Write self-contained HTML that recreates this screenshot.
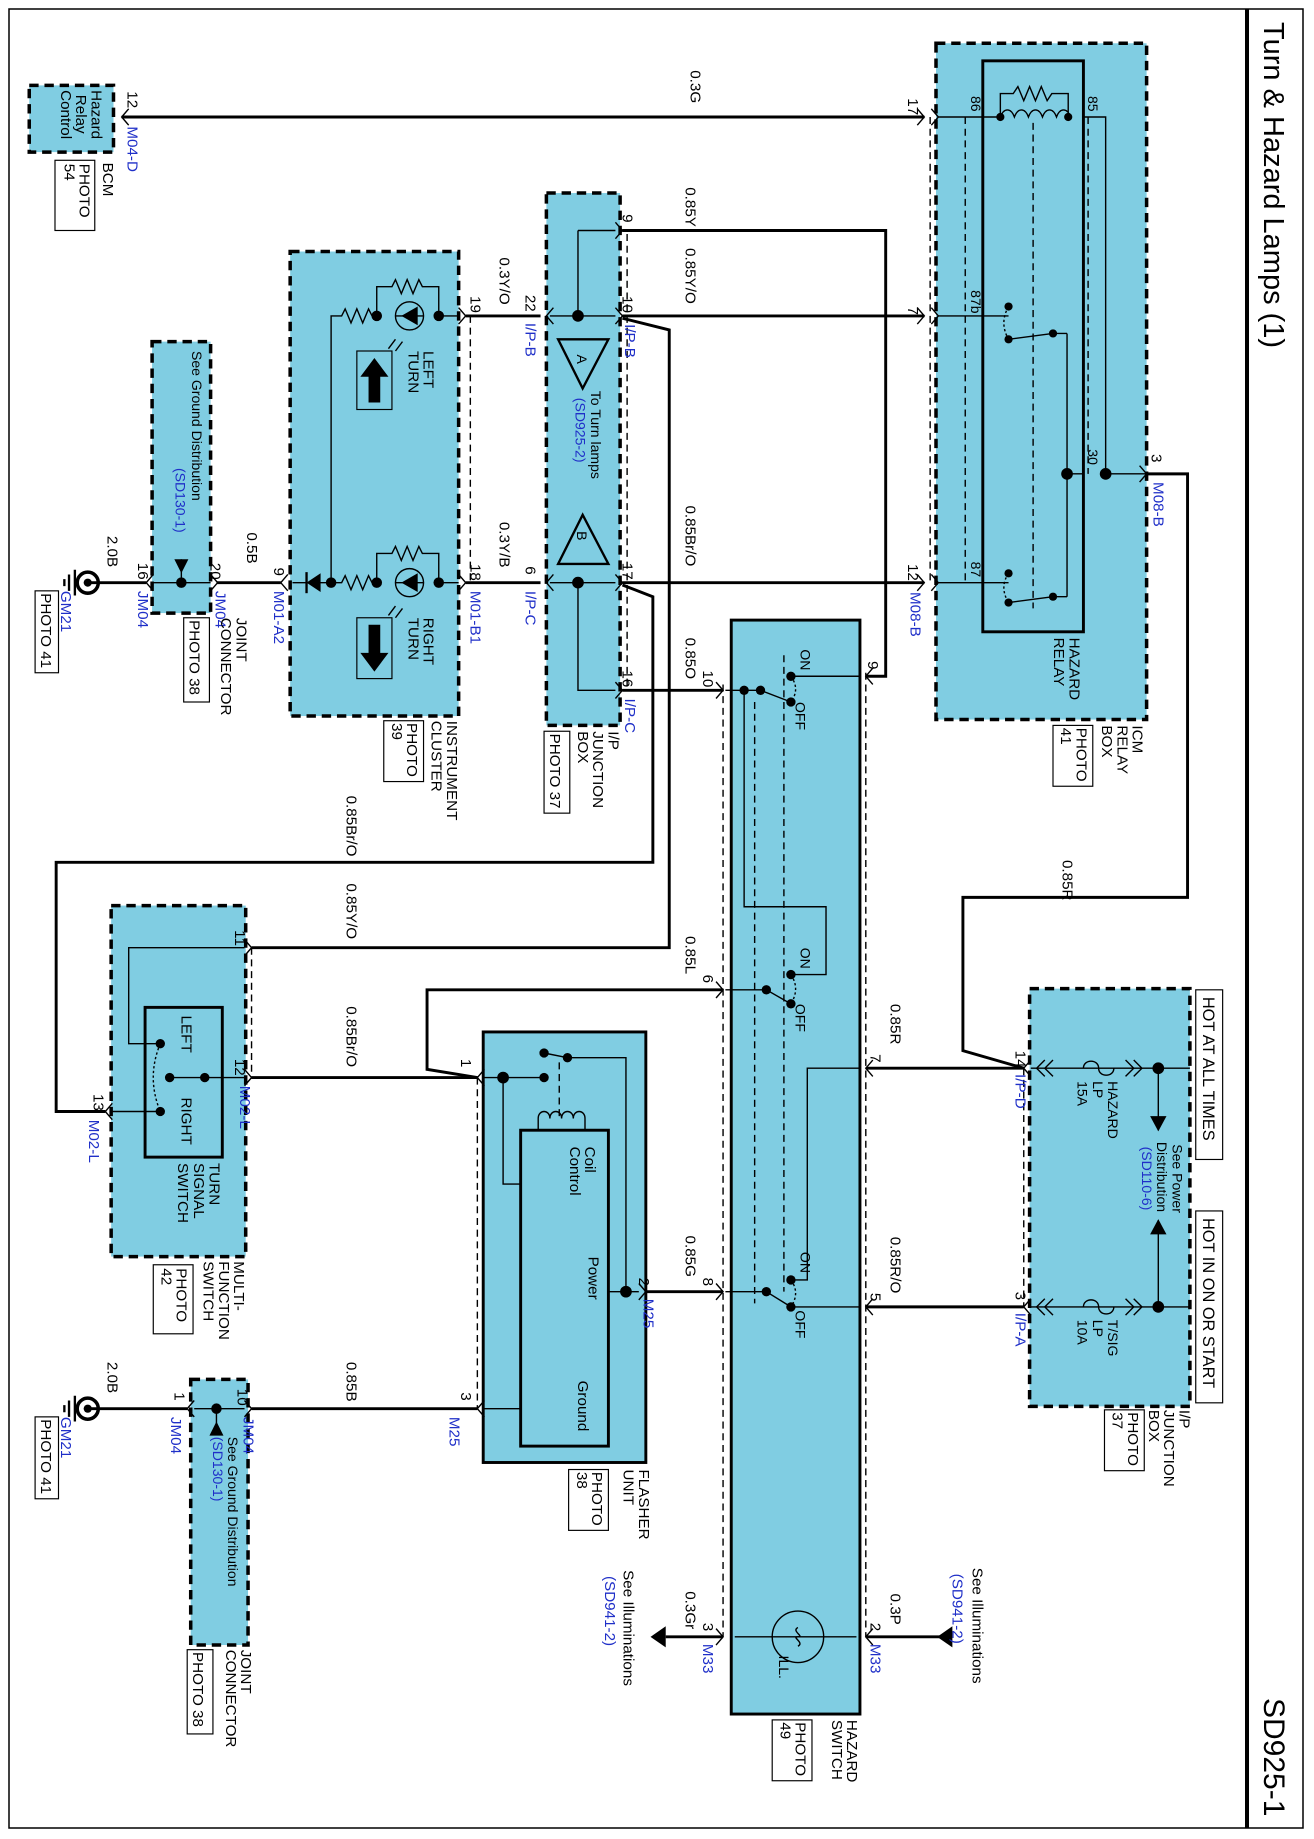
<!DOCTYPE html>
<html><head><meta charset="utf-8">
<style>
html,body{margin:0;padding:0;background:#fff}
svg{display:block}
text{font-family:"Liberation Sans",sans-serif;font-size:13px;fill:#000}
.b{fill:#1f2fc8}
.s{font-size:12px}
.w{stroke:#000;stroke-width:2.5;fill:none}
.l{stroke:#000;stroke-width:1.2;fill:none}
.d{stroke:#000;stroke-width:1.2;fill:none;stroke-dasharray:6 4}
.box{fill:#80cde2;stroke:#000;stroke-width:3;stroke-dasharray:8 5}
.sb{fill:#80cde2;stroke:#000;stroke-width:2.5}
</style></head><body>
<svg width="1314" height="1839" viewBox="0 0 1314 1839" xmlns="http://www.w3.org/2000/svg">
<rect x="9" y="9" width="1294" height="1819" fill="none" stroke="#000" stroke-width="1.5"/>
<line x1="1247" y1="9" x2="1247" y2="1828" stroke="#000" stroke-width="4"/>
<text transform="translate(1264,22) rotate(90)" style="font-size:29px">Turn &amp; Hazard Lamps (1)</text>
<text transform="translate(1264,1698) rotate(90)" style="font-size:30px">SD925-1</text>

<g transform="scale(1.17)">
<!-- Blue boxes -->
<rect class="box" x="25" y="73" width="72" height="57"/>
<rect class="box" x="800" y="37" width="180" height="578"/>
<rect x="840" y="52" width="86" height="488" fill="none" stroke="#000" stroke-width="2.5"/>
<rect class="box" x="467" y="165" width="63" height="455"/>
<rect class="box" x="248" y="215" width="144" height="397"/>
<rect class="box" x="130" y="292" width="50" height="232"/>
<rect class="sb" x="625" y="530" width="110" height="935"/>
<rect class="box" x="880" y="845" width="137" height="357"/>
<rect class="sb" x="413" y="882" width="139" height="368"/>
<rect x="445" y="966" width="75" height="270" fill="none" stroke="#000" stroke-width="2.5"/>
<rect class="box" x="95" y="774" width="115" height="300"/>
<rect x="124" y="861" width="66" height="128" fill="none" stroke="#000" stroke-width="2.5"/>
<rect class="box" x="163" y="1179" width="49" height="227"/>

<!-- main wires -->
<path class="w" d="M104 100H790"/>
<path class="w" d="M532 197H757V578H740"/>
<path class="w" d="M532 270H790"/>
<path class="w" d="M532 498H790"/>
<path class="w" d="M532 590H618"/>
<path class="w" d="M398 270H462"/>
<path class="w" d="M398 498H462"/>
<path class="w" d="M75 498H125"/>
<path class="w" d="M185 498H240"/>
<path class="w" d="M532 272L572 282V810H215"/>
<path class="w" d="M532 500L558 510V737H48V950H90"/>
<path class="w" d="M980 405H1015V767H823V898L875 913"/>
<path class="w" d="M740 913H875"/>
<path class="w" d="M740 1117H875"/>
<path class="w" d="M618 846H365V914L408 921"/>
<path class="w" d="M618 1104H552"/>
<path class="w" d="M215 921H408"/>
<path class="w" d="M215 1204H408"/>
<path class="w" d="M75 1204H160"/>
<path class="w" d="M740 1399H810"/>
<path class="w" d="M618 1399H569"/>
<polygon points="801,1399 814,1390 814,1408" fill="#000"/>
<polygon points="556,1399 569,1390 569,1408" fill="#000"/>

<!-- connector chevrons -->
<g class="l" stroke-width="1.3">
<path d="M110 93L104 100L110 107"/>
<path d="M784 93L790 100L784 107M784 263L790 270L784 277M784 491L790 498L784 505"/>
<path d="M796 93L802 100M796 107L802 100M796 263L802 270M796 277L802 270M796 491L802 498M796 505L802 498"/>
<path d="M526 190L532 197L526 204M526 263L532 270L526 277M526 491L532 498L526 505M526 583L532 590L526 597"/>
<path d="M473 263L467 270L473 277M473 491L467 498L473 505"/>
<path d="M392 263L398 270L392 277M392 491L398 498L392 505"/>
<path d="M246 491L240 498L246 505M131 491L125 498L131 505M180 491L186 498L180 505"/>
<path d="M974 398L980 405L974 412"/>
<path d="M612 583L618 590L612 597M612 839L618 846L612 853M612 1097L618 1104L612 1111M612 1392L618 1399L612 1406"/>
<path d="M746 571L740 578L746 585M746 906L740 913L746 920M746 1110L740 1117L746 1124M746 1392L740 1399L746 1406"/>
<path d="M881 906L875 913L881 920M881 1110L875 1117L881 1124"/>
<path d="M414 914L408 921L414 928M414 1197L408 1204L414 1211M546 1097L552 1104L546 1111"/>
<path d="M209 803L215 810L209 817M209 914L215 921L209 928M96 943L90 950L96 957"/>
<path d="M166 1197L160 1204L166 1211M209 1197L215 1204L209 1211"/>
</g>
<path class="d" d="M795 100V498M536 200V590M402 270V498M618 585V1399M740 575V1399M875 913V1117M408 921V1204M215 810V921"/>

<!-- BCM text -->
<text transform="translate(78,77) rotate(90)">Hazard</text>
<text transform="translate(65,81) rotate(90)">Relay</text>
<text transform="translate(52,77) rotate(90)">Control</text>
<text transform="translate(109,78) rotate(90)">12</text>
<text transform="translate(109,108) rotate(90)" class="b">M04-D</text>
<text transform="translate(88,139) rotate(90)">BCM</text>
<rect x="47" y="137" width="34" height="60" fill="none" stroke="#000"/>
<text transform="translate(68,140) rotate(90)">PHOTO</text>
<text transform="translate(55,140) rotate(90)">54</text>
<text transform="translate(590,60) rotate(90)">0.3G</text>

<!-- ICM relay internals -->
<path class="l" d="M802 100H855M926 100H945V405H980M802 270H862M802 498H862M912 405H926M912 285V510"/>
<path class="l" d="M855 100c3-8 9-8 12 0c3-8 9-8 12 0c3-8 9-8 12 0c3-8 9-8 12 0c3-8 9-8 12 0"/>
<path class="l" d="M855 100V80H866l4-6 5 12 5-12 5 12 5-12 5 12 4-6H913V100"/>
<path class="d" d="M825 100V498M930 100V405M883 105V520"/>
<circle cx="855" cy="100" r="3.5"/><circle cx="913" cy="100" r="3.5"/>
<circle cx="862" cy="262" r="3.5"/><circle cx="862" cy="290" r="3.5"/><circle cx="900" cy="285" r="3.5"/>
<path class="l" d="M900 285L862 290M900 285H912"/>
<circle cx="862" cy="490" r="3.5"/><circle cx="862" cy="515" r="3.5"/><circle cx="900" cy="510" r="3.5"/>
<path class="l" d="M900 510L862 515M900 510H912"/>
<circle cx="912" cy="405" r="5"/><circle cx="945" cy="405" r="5"/>
<path class="l" d="M862 262q-8 14 0 28M862 490q-8 12 0 25" stroke-dasharray="2 2"/>
<text transform="translate(776,84) rotate(90)">17</text>
<text transform="translate(776,262) rotate(90)">7</text>
<text transform="translate(776,482) rotate(90)">12</text>
<text transform="translate(778,506) rotate(90)" class="b">M08-B</text>
<text transform="translate(830,82) rotate(90)" class="s">86</text>
<text transform="translate(830,248) rotate(90)" class="s">87b</text>
<text transform="translate(830,480) rotate(90)" class="s">87</text>
<text transform="translate(930,82) rotate(90)" class="s">85</text>
<text transform="translate(930,384) rotate(90)" class="s">30</text>
<text transform="translate(984,388) rotate(90)">3</text>
<text transform="translate(986,412) rotate(90)" class="b">M08-B</text>
<text transform="translate(914,545) rotate(90)">HAZARD</text>
<text transform="translate(901,545) rotate(90)">RELAY</text>
<text transform="translate(968,620) rotate(90)">ICM</text>
<text transform="translate(955,620) rotate(90)">RELAY</text>
<text transform="translate(942,620) rotate(90)">BOX</text>
<rect x="900" y="620" width="34" height="52" fill="none" stroke="#000"/>
<text transform="translate(920,622) rotate(90)">PHOTO</text>
<text transform="translate(907,622) rotate(90)">41</text>
<text transform="translate(908,735) rotate(90)">0.85R</text>

<!-- wire labels -->
<text transform="translate(586,160) rotate(90)">0.85Y</text>
<text transform="translate(586,212) rotate(90)">0.85Y/O</text>
<text transform="translate(586,432) rotate(90)">0.85Br/O</text>
<text transform="translate(586,545) rotate(90)">0.85O</text>
<text transform="translate(601,573) rotate(90)">10</text>
<text transform="translate(742,565) rotate(90)">9</text>
<text transform="translate(586,800) rotate(90)">0.85L</text>
<text transform="translate(601,833) rotate(90)">6</text>
<text transform="translate(586,1056) rotate(90)">0.85G</text>
<text transform="translate(601,1092) rotate(90)">8</text>
<text transform="translate(546,1092) rotate(90)">2</text>
<text transform="translate(550,1110) rotate(90)" class="b">M25</text>
<text transform="translate(761,858) rotate(90)">0.85R</text>
<text transform="translate(744,901) rotate(90)">7</text>
<text transform="translate(761,1057) rotate(90)">0.85R/O</text>
<text transform="translate(744,1105) rotate(90)">5</text>
<text transform="translate(868,898) rotate(90)">14</text>
<text transform="translate(868,918) rotate(90)" class="b">I/P-D</text>
<text transform="translate(868,1104) rotate(90)">3</text>
<text transform="translate(868,1122) rotate(90)" class="b">I/P-A</text>
<text transform="translate(761,1362) rotate(90)">0.3P</text>
<text transform="translate(744,1387) rotate(90)">2</text>
<text transform="translate(744,1405) rotate(90)" class="b">M33</text>
<text transform="translate(831,1340) rotate(90)">See Illuminations</text>
<text transform="translate(814,1345) rotate(90)" class="b">(SD941-2)</text>
<text transform="translate(586,1360) rotate(90)">0.3Gr</text>
<text transform="translate(601,1387) rotate(90)">3</text>
<text transform="translate(601,1405) rotate(90)" class="b">M33</text>
<text transform="translate(533,1342) rotate(90)">See Illuminations</text>
<text transform="translate(517,1347) rotate(90)" class="b">(SD941-2)</text>

<!-- I/P box A -->
<path class="l" d="M470 270H526M494 197V270M494 197H526M470 498H526M494 498V590H526"/>
<circle cx="494" cy="270" r="5"/><circle cx="494" cy="498" r="5"/>
<polygon points="477,290 520,290 498,332" fill="none" stroke="#000" stroke-width="2"/>
<polygon points="477,482 520,482 498,440" fill="none" stroke="#000" stroke-width="2"/>
<text transform="translate(493,303) rotate(90)" class="s">A</text>
<text transform="translate(493,454) rotate(90)" class="s">B</text>
<text transform="translate(505,334) rotate(90)" class="s">To Turn lamps</text>
<text transform="translate(492,340) rotate(90)" class="b s">(SD925-2)</text>
<text transform="translate(532,183) rotate(90)">9</text>
<text transform="translate(532,253) rotate(90)">10</text>
<text transform="translate(534,277) rotate(90)" class="b">I/P-B</text>
<text transform="translate(532,481) rotate(90)">17</text>
<text transform="translate(532,573) rotate(90)">16</text>
<text transform="translate(534,597) rotate(90)" class="b">I/P-C</text>
<text transform="translate(449,252) rotate(90)">22</text>
<text transform="translate(449,276) rotate(90)" class="b">I/P-B</text>
<text transform="translate(449,484) rotate(90)">6</text>
<text transform="translate(449,505) rotate(90)" class="b">I/P-C</text>
<text transform="translate(520,625) rotate(90)">I/P</text>
<text transform="translate(507,625) rotate(90)">JUNCTION</text>
<text transform="translate(494,625) rotate(90)">BOX</text>
<rect x="465" y="625" width="22" height="70" fill="none" stroke="#000"/>
<text transform="translate(470,627) rotate(90)">PHOTO 37</text>
<text transform="translate(427,220) rotate(90)">0.3Y/O</text>
<text transform="translate(427,446) rotate(90)">0.3Y/B</text>
<text transform="translate(402,253) rotate(90)">19</text>
<text transform="translate(402,482) rotate(90)">18</text>
<text transform="translate(402,505) rotate(90)" class="b">M01-B1</text>

<!-- Cluster internals -->
<g>
<path class="l" d="M392 270H375M362 270H338M322 270H318l-3-6-5 12-5-12-5 12-5-12-3 6H283V498M322 270V245H335l3-6 5 12 5-12 5 12 5-12 3 6H375V270"/>
<circle cx="375" cy="270" r="4.5"/><circle cx="322" cy="270" r="4.5"/>
<circle cx="350" cy="270" r="12" fill="none" stroke="#000" stroke-width="1.2"/>
<polygon points="357,262 357,278 343,270" fill="#000"/>
<path class="l" d="M338 290l-6 8M344 292l-6 8"/>
<path class="l" d="M392 498H375M362 498H338M322 498H318l-3-6-5 12-5-12-5 12-5-12-3 6H250M322 498V473H335l3-6 5 12 5-12 5 12 5-12 3 6H375V498"/>
<circle cx="375" cy="498" r="4.5"/><circle cx="322" cy="498" r="4.5"/><circle cx="283" cy="498" r="4.5"/>
<circle cx="350" cy="498" r="12" fill="none" stroke="#000" stroke-width="1.2"/>
<polygon points="357,490 357,506 343,498" fill="#000"/>
<polygon points="274,490 274,506 262,498" fill="#000"/><line x1="262" y1="489" x2="262" y2="507" stroke="#000" stroke-width="2"/>
<path class="l" d="M338 518l-6 8M344 520l-6 8"/>
<rect x="305" y="300" width="30" height="50" fill="none" stroke="#000"/>
<polygon points="320,306 332,322 325,322 325,344 315,344 315,322 308,322" fill="#000"/>
<rect x="305" y="528" width="30" height="52" fill="none" stroke="#000"/>
<polygon points="320,574 332,558 325,558 325,534 315,534 315,558 308,558" fill="#000"/>
<text transform="translate(362,300) rotate(90)">LEFT</text>
<text transform="translate(349,300) rotate(90)">TURN</text>
<text transform="translate(362,528) rotate(90)">RIGHT</text>
<text transform="translate(349,528) rotate(90)">TURN</text>
</g>
<text transform="translate(382,616) rotate(90)">INSTRUMENT</text>
<text transform="translate(369,616) rotate(90)">CLUSTER</text>
<rect x="328" y="616" width="34" height="52" fill="none" stroke="#000"/>
<text transform="translate(348,618) rotate(90)">PHOTO</text>
<text transform="translate(335,618) rotate(90)">39</text>
<text transform="translate(234,485) rotate(90)">9</text>
<text transform="translate(234,505) rotate(90)" class="b">M01-A2</text>
<text transform="translate(211,455) rotate(90)">0.5B</text>
<text transform="translate(180,481) rotate(90)">20</text>
<text transform="translate(184,505) rotate(90)" class="b">JM04</text>

<!-- Joint connector 1 -->
<path class="l" d="M131 498H180M155 498V478"/>
<circle cx="155" cy="498" r="4.5"/>
<polygon points="149,478 161,478 155,490" fill="#000"/>
<text transform="translate(164,300) rotate(90)" class="s">See Ground Distribution</text>
<text transform="translate(150,400) rotate(90)" class="b s">(SD130-1)</text>
<text transform="translate(118,481) rotate(90)">16</text>
<text transform="translate(118,505) rotate(90)" class="b">JM04</text>
<text transform="translate(92,458) rotate(90)">2.0B</text>
<text transform="translate(202,528) rotate(90)">JOINT</text>
<text transform="translate(189,528) rotate(90)">CONNECTOR</text>
<rect x="157" y="528" width="22" height="72" fill="none" stroke="#000"/>
<text transform="translate(162,530) rotate(90)">PHOTO 38</text>

<!-- ground symbols -->
<g>
<circle cx="75" cy="498" r="9" fill="none" stroke="#000" stroke-width="3"/><circle cx="75" cy="498" r="3.5"/>
<path d="M64 487V509M59 491V505M55 495V501" stroke="#000" stroke-width="2"/>
<circle cx="75" cy="1204" r="9" fill="none" stroke="#000" stroke-width="3"/><circle cx="75" cy="1204" r="3.5"/>
<path d="M64 1193V1215M59 1197V1211M55 1201V1207" stroke="#000" stroke-width="2"/>
</g>
<text transform="translate(52,505) rotate(90)" class="b">GM21</text>
<rect x="30" y="505" width="20" height="70" fill="none" stroke="#000"/>
<text transform="translate(35,507) rotate(90)">PHOTO 41</text>
<text transform="translate(52,1211) rotate(90)" class="b">GM21</text>
<rect x="30" y="1211" width="20" height="70" fill="none" stroke="#000"/>
<text transform="translate(35,1213) rotate(90)">PHOTO 41</text>

<!-- Hazard switch internals -->
<path class="d" d="M670 560V1104M645 600V1114"/>
<path class="l" d="M620 590H650L676 600M676 578H735M636 590V775H706V833H676M620 846H655L676 858M735 913H690V1094H676M620 1104H655L676 1117H735M628 1399H732"/>
<circle cx="636" cy="590" r="4"/><circle cx="650" cy="590" r="4"/><circle cx="676" cy="578" r="4"/><circle cx="676" cy="600" r="4"/>
<circle cx="655" cy="846" r="4"/><circle cx="676" cy="833" r="4"/><circle cx="676" cy="858" r="4"/>
<circle cx="655" cy="1104" r="4"/><circle cx="676" cy="1094" r="4"/><circle cx="676" cy="1117" r="4"/>
<path class="l" stroke-dasharray="2 2" d="M676 578q8 11 0 22M676 833q8 12 0 25M676 1094q8 11 0 23"/>
<text transform="translate(684,555) rotate(90)" class="s">ON</text>
<text transform="translate(680,600) rotate(90)" class="s">OFF</text>
<text transform="translate(684,810) rotate(90)" class="s">ON</text>
<text transform="translate(680,858) rotate(90)" class="s">OFF</text>
<text transform="translate(684,1070) rotate(90)" class="s">ON</text>
<text transform="translate(680,1120) rotate(90)" class="s">OFF</text>
<circle cx="682" cy="1399" r="22" fill="none" stroke="#000" stroke-width="1.2"/>
<path class="l" d="M682 1391c-6 3 6 8 0 8s6 5 0 8"/>
<text transform="translate(666,1415) rotate(90)" class="s">ILL.</text>
<text transform="translate(724,1470) rotate(90)">HAZARD</text>
<text transform="translate(711,1470) rotate(90)">SWITCH</text>
<rect x="660" y="1470" width="34" height="52" fill="none" stroke="#000"/>
<text transform="translate(680,1472) rotate(90)">PHOTO</text>
<text transform="translate(667,1472) rotate(90)">49</text>

<!-- I/P junction box power -->
<path class="l" d="M881 913H1017M881 1117H1017M990 913V966M990 1043V1117"/>
<path class="l" d="M893 906L886 913L893 920M900 906L893 913L900 920M962 906L969 913L962 920M969 906L976 913L969 920M893 1110L886 1117L893 1124M900 1110L893 1117L900 1124M962 1110L969 1117L962 1124M969 1110L976 1117L969 1124"/>
<path class="l" d="M926 913c0-8 13-8 13 0s13 8 13 0M926 1117c0-8 13-8 13 0s13 8 13 0" stroke-width="1.5"/>
<circle cx="990" cy="913" r="5"/><circle cx="990" cy="1117" r="5"/>
<polygon points="983,954 997,954 990,967" fill="#000"/>
<polygon points="983,1055 997,1055 990,1042" fill="#000"/>
<text transform="translate(1002,978) rotate(90)" class="s">See Power</text>
<text transform="translate(989,976) rotate(90)" class="s">Distribution</text>
<text transform="translate(976,980) rotate(90)" class="b s">(SD110-6)</text>
<text transform="translate(947,924) rotate(90)" class="s">HAZARD</text>
<text transform="translate(934,924) rotate(90)" class="s">LP</text>
<text transform="translate(921,924) rotate(90)" class="s">15A</text>
<text transform="translate(947,1128) rotate(90)" class="s">T/SIG</text>
<text transform="translate(934,1128) rotate(90)" class="s">LP</text>
<text transform="translate(921,1128) rotate(90)" class="s">10A</text>
<rect x="1022" y="846" width="23" height="145" fill="#fff" stroke="#000"/>
<text transform="translate(1028,852) rotate(90)" style="font-size:14px">HOT AT ALL TIMES</text>
<rect x="1022" y="1035" width="23" height="164" fill="#fff" stroke="#000"/>
<text transform="translate(1028,1041) rotate(90)" style="font-size:14px">HOT IN ON OR START</text>
<text transform="translate(1008,1205) rotate(90)">I/P</text>
<text transform="translate(995,1205) rotate(90)">JUNCTION</text>
<text transform="translate(982,1205) rotate(90)">BOX</text>
<rect x="944" y="1205" width="34" height="52" fill="none" stroke="#000"/>
<text transform="translate(964,1207) rotate(90)">PHOTO</text>
<text transform="translate(951,1207) rotate(90)">37</text>

<!-- Flasher internals -->
<path class="l" d="M414 921H465M430 921V1012H445M485 904L465 900M485 904H535V1104H546M520 1104H535M414 1204H445M460 966V956c0-8 10-8 10 0c0-8 10-8 10 0c0-8 10-8 10 0c0-8 10-8 10 0V966"/>
<path class="d" d="M478 908V956"/>
<circle cx="430" cy="921" r="5"/><circle cx="465" cy="921" r="4"/><circle cx="465" cy="900" r="4"/><circle cx="485" cy="904" r="4"/><circle cx="535" cy="1104" r="5"/>
<text transform="translate(500,980) rotate(90)">Coil</text>
<text transform="translate(487,980) rotate(90)">Control</text>
<text transform="translate(503,1074) rotate(90)">Power</text>
<text transform="translate(494,1180) rotate(90)">Ground</text>
<text transform="translate(394,905) rotate(90)">1</text>
<text transform="translate(394,1190) rotate(90)">3</text>
<text transform="translate(384,1211) rotate(90)" class="b">M25</text>
<text transform="translate(546,1256) rotate(90)">FLASHER</text>
<text transform="translate(533,1256) rotate(90)">UNIT</text>
<rect x="486" y="1256" width="34" height="52" fill="none" stroke="#000"/>
<text transform="translate(506,1258) rotate(90)">PHOTO</text>
<text transform="translate(493,1258) rotate(90)">38</text>

<!-- Multi-function switch -->
<path class="l" d="M209 810H110V892H137M209 921H145M96 950H137"/>
<circle cx="137" cy="892" r="4"/><circle cx="137" cy="950" r="4"/><circle cx="145" cy="921" r="4"/><circle cx="175" cy="921" r="4"/>
<path class="l" stroke-dasharray="2 2" d="M137 892q-12 29 0 58"/>
<text transform="translate(155,868) rotate(90)">LEFT</text>
<text transform="translate(155,938) rotate(90)">RIGHT</text>
<text transform="translate(179,994) rotate(90)">TURN</text>
<text transform="translate(166,994) rotate(90)">SIGNAL</text>
<text transform="translate(152,994) rotate(90)">SWITCH</text>
<text transform="translate(201,795) rotate(90)">11</text>
<text transform="translate(201,905) rotate(90)">12</text>
<text transform="translate(205,928) rotate(90)" class="b">M02-L</text>
<text transform="translate(80,935) rotate(90)">13</text>
<text transform="translate(76,957) rotate(90)" class="b">M02-L</text>
<text transform="translate(200,1078) rotate(90)">MULTI-</text>
<text transform="translate(187,1078) rotate(90)">FUNCTION</text>
<text transform="translate(174,1078) rotate(90)">SWITCH</text>
<rect x="131" y="1081" width="34" height="59" fill="none" stroke="#000"/>
<text transform="translate(151,1084) rotate(90)">PHOTO</text>
<text transform="translate(138,1084) rotate(90)">42</text>
<text transform="translate(296,680) rotate(90)">0.85Br/O</text>
<text transform="translate(296,755) rotate(90)">0.85Y/O</text>
<text transform="translate(296,860) rotate(90)">0.85Br/O</text>
<text transform="translate(296,1164) rotate(90)">0.85B</text>
<text transform="translate(92,1164) rotate(90)">2.0B</text>

<!-- Joint connector 2 -->
<path class="l" d="M166 1204H209M185 1204V1219"/>
<circle cx="185" cy="1204" r="4.5"/>
<polygon points="179,1227 191,1227 185,1215" fill="#000"/>
<text transform="translate(195,1228) rotate(90)" class="s">See Ground Distribution</text>
<text transform="translate(182,1228) rotate(90)" class="b s">(SD130-1)</text>
<text transform="translate(149,1190) rotate(90)">1</text>
<text transform="translate(146,1211) rotate(90)" class="b">JM04</text>
<text transform="translate(203,1187) rotate(90)">10</text>
<text transform="translate(208,1211) rotate(90)" class="b">JM04</text>
<text transform="translate(206,1410) rotate(90)">JOINT</text>
<text transform="translate(193,1410) rotate(90)">CONNECTOR</text>
<rect x="160" y="1410" width="22" height="72" fill="none" stroke="#000"/>
<text transform="translate(165,1412) rotate(90)">PHOTO 38</text>
</g>
</svg>
</body></html>
